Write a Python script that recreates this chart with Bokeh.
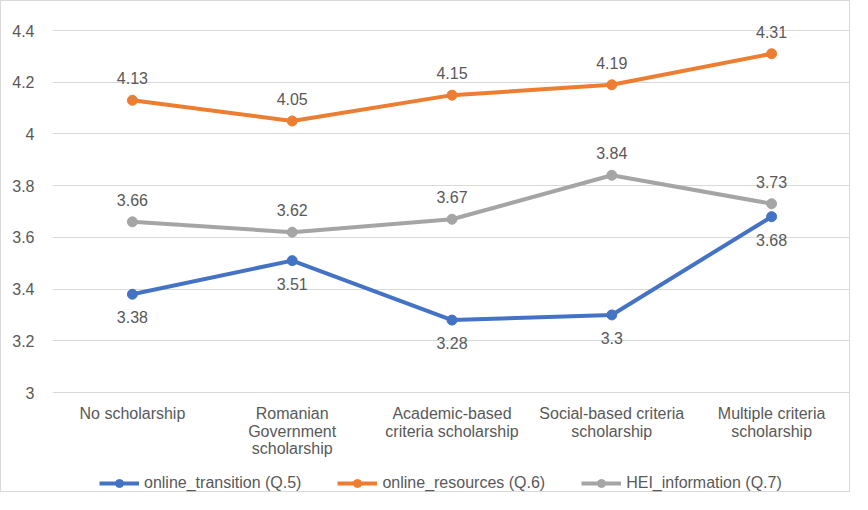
from bokeh.plotting import figure
from bokeh.models import Range1d, FactorRange, Legend, LegendItem, ColumnDataSource, LabelSet
from bokeh.core.properties import value
from bokeh.embed import file_html
from bokeh.resources import INLINE

categories = ["No scholarship", "Romanian Government scholarship",
              "Academic-based criteria scholarship",
              "Social-based criteria scholarship", "Multiple criteria scholarship"]
category_label_lines = [["No scholarship"],
                        ["Romanian", "Government", "scholarship"],
                        ["Academic-based", "criteria scholarship"],
                        ["Social-based criteria", "scholarship"],
                        ["Multiple criteria", "scholarship"]]
online_transition = [3.38, 3.51, 3.28, 3.30, 3.68]
online_resources = [4.13, 4.05, 4.15, 4.19, 4.31]
hei_information = [3.66, 3.62, 3.67, 3.84, 3.73]
series_names = ["online_transition (Q.5)", "online_resources (Q.6)", "HEI_information (Q.7)"]
y_ticks = [3, 3.2, 3.4, 3.6, 3.8, 4, 4.2, 4.4]
y_min, y_max = 3, 4.4

FONT = "Liberation Sans"
TXT = "#595959"
GRID = "#d9d9d9"
FS = "16px"

W, H = 850, 492
TOP_PX, AXIS_PX = 29, 391          # pixel rows of the 4.4 and 3 gridlines
ppu = (AXIS_PX - TOP_PX) / (y_max - y_min)
view_top = y_max + TOP_PX / ppu
view_bottom = y_min - (H - AXIS_PX) / ppu

p = figure(width=W, height=H, output_backend="svg", toolbar_location=None,
           x_range=FactorRange(factors=categories, range_padding=0, factor_padding=0),
           y_range=Range1d(view_bottom, view_top),
           min_border_left=51, min_border_right=0, min_border_top=0, min_border_bottom=0)
p.outline_line_color = None
p.background_fill_color = "white"
p.border_fill_color = "white"
p.styles = {"border": "1px solid #d9d9d9"}

p.xgrid.grid_line_color = None
p.ygrid.grid_line_color = GRID
p.ygrid.grid_line_width = 1
p.ygrid.ticker = y_ticks

p.yaxis.ticker = y_ticks
p.yaxis.major_label_overrides = {t: f"{t:g}" for t in y_ticks}
p.yaxis.axis_line_color = None
p.yaxis.major_tick_line_color = None
p.yaxis.minor_tick_line_color = None
p.yaxis.major_label_standoff = 12
p.yaxis.major_label_text_font = FONT
p.yaxis.major_label_text_font_size = FS
p.yaxis.major_label_text_color = TXT

p.xaxis.visible = False

# category labels, one centred row per line, below the baseline
cx, cy, ct, coff = [], [], [], []
for cat, lines in zip(categories, category_label_lines):
    for i, line in enumerate(lines):
        cx.append(cat); cy.append(y_min); ct.append(line); coff.append(-(21 + i * 17.7))
cat_src = ColumnDataSource(dict(x=cx, y=cy, lab=ct, off=coff))
p.add_layout(LabelSet(x="x", y="y", text="lab", source=cat_src, y_offset="off",
                      text_align="center", text_baseline="middle", text_font=value(FONT),
                      text_font_size=value(FS), text_color=value(TXT)))

colors = ["#4472C4", "#ED7D31", "#A5A5A5"]
data = [online_transition, online_resources, hei_information]
offsets = [-23, 22, 22]
items = []
for name, vals, c, off in zip(series_names, data, colors, offsets):
    src = ColumnDataSource(dict(x=categories, y=vals, lab=[f"{v:g}" for v in vals]))
    l = p.line("x", "y", source=src, line_color=c, line_width=4)
    s = p.scatter("x", "y", source=src, size=10, fill_color=c, line_color=c)
    p.add_layout(LabelSet(x="x", y="y", text="lab", source=src, y_offset=off,
                          text_align="center", text_baseline="middle", text_font=value(FONT),
                          text_font_size=value(FS), text_color=value(TXT)))
    items.append(LegendItem(label=name, renderers=[l, s]))

legend = Legend(items=items, orientation="horizontal", location=(47, 0),
                label_text_font=FONT, label_text_font_size=FS, label_text_color=TXT,
                glyph_width=40, label_standoff=5, spacing=36, border_line_color=None,
                background_fill_alpha=0, margin=0, padding=2)
p.add_layout(legend)

open("out.html", "w").write(file_html(p, INLINE))
